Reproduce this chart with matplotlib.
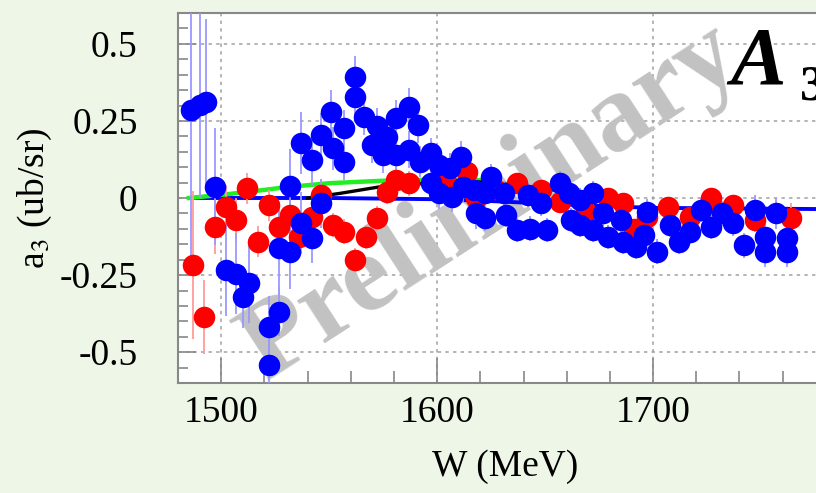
import numpy as np
import matplotlib
matplotlib.use("Agg")
import matplotlib.pyplot as plt
from matplotlib.ticker import MultipleLocator, FixedLocator, FixedFormatter

plt.rcParams.update({
    "font.family": ["Liberation Serif", "DejaVu Serif"],
    "mathtext.fontset": "stix",
})

# ---- data ----
blue_w = [1486, 1490, 1493, 1497, 1502, 1507, 1510, 1513, 1522, 1522,
          1527, 1527, 1532, 1532, 1537, 1537, 1542, 1542, 1546, 1546,
          1551, 1552, 1557, 1557, 1562, 1562, 1566, 1570, 1572, 1575,
          1577, 1581, 1581, 1587, 1587, 1591, 1592, 1597, 1597, 1601,
          1601, 1606, 1607, 1611, 1612, 1617, 1618, 1622, 1622, 1625,
          1631, 1632, 1637, 1642, 1643, 1648, 1651, 1657, 1661, 1662,
          1666, 1666, 1672, 1672, 1677, 1679, 1685, 1686, 1692, 1696,
          1697, 1702, 1708, 1712, 1717, 1722, 1727, 1732, 1737, 1742,
          1747, 1752, 1752, 1757, 1762, 1762]
blue_a = [0.285, 0.30, 0.31, 0.037, -0.234, -0.245, -0.32, -0.277, -0.418, -0.542,
          -0.369, -0.163, -0.174, 0.039, -0.082, 0.178, -0.131, 0.123, -0.017, 0.205,
          0.28, 0.161, 0.226, 0.118, 0.394, 0.329, 0.264, 0.172, 0.232, 0.14,
          0.199, 0.259, 0.14, 0.296, 0.156, 0.237, 0.118, 0.145, 0.048, 0.107,
          0.015, 0.096, 0.004, 0.134, 0.037, 0.026, -0.05, 0.015, -0.066, 0.069,
          0.015, -0.055, -0.104, 0.01, -0.099, -0.017, -0.104, 0.048, 0.015, -0.071,
          -0.006, -0.088, 0.015, -0.104, -0.05, -0.126, -0.071, -0.142, -0.158, -0.12,
          -0.044, -0.174, -0.088, -0.142, -0.109, -0.039, -0.093, -0.05, -0.082, -0.153,
          -0.039, -0.126, -0.174, -0.05, -0.131, -0.174]
blue_err = [0.5, 0.3, 0.27, 0.19, 0.15, 0.13, 0.1, 0.13, 0.1, 0.1,
            0.08, 0.15, 0.12, 0.12, 0.1, 0.1, 0.08, 0.08, 0.08, 0.07,
            0.07, 0.07, 0.06, 0.06, 0.065, 0.06, 0.06, 0.06, 0.06, 0.06,
            0.06, 0.06, 0.06, 0.06, 0.06, 0.06, 0.05, 0.05, 0.05, 0.05,
            0.05, 0.05, 0.05, 0.05, 0.05, 0.05, 0.05, 0.04, 0.04, 0.04,
            0.04, 0.04, 0.04, 0.04, 0.04, 0.04, 0.04, 0.04, 0.04, 0.04,
            0.04, 0.04, 0.04, 0.04, 0.04, 0.04, 0.04, 0.04, 0.04, 0.04,
            0.04, 0.04, 0.04, 0.04, 0.04, 0.04, 0.04, 0.04, 0.04, 0.04,
            0.05, 0.05, 0.05, 0.05, 0.05, 0.05]

red_w = [1487, 1492, 1497, 1502, 1507, 1512, 1517, 1522, 1527, 1532,
         1536, 1542, 1546, 1552, 1557, 1562, 1567, 1572, 1577, 1581,
         1587, 1604, 1614, 1618, 1627, 1637, 1648, 1657, 1669, 1679,
         1686, 1691, 1697, 1707, 1717, 1727, 1737, 1747, 1764]
red_a = [-0.218, -0.385, -0.093, -0.028, -0.071, 0.031, -0.142, -0.023, -0.093, -0.055,
         -0.126, -0.061, 0.01, -0.088, -0.109, -0.201, -0.126, -0.066, 0.021, 0.058,
         0.048, 0.053, 0.085, 0.0, 0.03, 0.048, 0.026, -0.012, -0.044, 0.0,
         -0.017, -0.1, -0.06, -0.028, -0.06, -0.001, -0.023, -0.07, -0.066]
red_err = [0.24, 0.12, 0.09, 0.07, 0.07, 0.05, 0.05, 0.05, 0.05, 0.05,
           0.05, 0.05, 0.05, 0.04, 0.04, 0.04, 0.04, 0.04, 0.04, 0.04,
           0.04, 0.04, 0.04, 0.03, 0.03, 0.03, 0.03, 0.03, 0.03, 0.03,
           0.03, 0.03, 0.03, 0.03, 0.03, 0.03, 0.03, 0.04, 0.05]

# model curves
blue_model_w = [1485, 1550, 1600, 1625, 1650, 1675, 1700, 1800]
blue_model_a = [0.0, 0.0, -0.004, -0.01, -0.018, -0.026, -0.032, -0.037]
green_model_w = [1485, 1500, 1515, 1530, 1550, 1575, 1600, 1620]
green_model_a = [0.0, 0.01, 0.022, 0.035, 0.048, 0.056, 0.06, 0.058]
black_model_w = [1540, 1555, 1575, 1600, 1620, 1640, 1655]
black_model_a = [0.0, 0.015, 0.038, 0.05, 0.052, 0.04, 0.025]

y_ticks = [-0.5, -0.25, 0, 0.25, 0.5]
y_ticklabels = ["-0.5", "-0.25", "0", "0.25", "0.5"]
x_ticks = [1500, 1600, 1700]

# ---- figure ----
W_PX, H_PX = 816, 493
fig = plt.figure(figsize=(W_PX / 100, H_PX / 100), dpi=100)
fig.patch.set_facecolor("#eef6e7")

ax_l, ax_t, ax_b, ax_r = 178, 13, 383, 869   # pixel frame (right side cropped off)
ax = fig.add_axes([ax_l / W_PX, 1 - ax_b / H_PX, (ax_r - ax_l) / W_PX, (ax_b - ax_t) / H_PX])
ax.set_facecolor("white")
ax.set_xlim(1480, 1800)
ax.set_ylim(-0.6, 0.6)

ax.grid(True, which="major", color="#a0a0a0", linestyle=(0, (2.2, 2.8)), linewidth=1.1)
ax.set_axisbelow(True)

# watermark, under the data
ax.text(505 / W_PX, 1 - 225 / H_PX, "Preliminary", transform=fig.transFigure,
        fontsize=80, fontweight="bold", color="#c2c2c2", rotation=33,
        rotation_mode="anchor", ha="center", va="baseline", zorder=1, clip_on=False)

ax.plot(blue_model_w, blue_model_a, color="#0000ff", lw=2.8, zorder=2, solid_capstyle="butt")
ax.plot(green_model_w, green_model_a, color="#22ee22", lw=3.2, zorder=2)
ax.plot(black_model_w, black_model_a, color="black", lw=2.4, zorder=2)

ax.errorbar(red_w, red_a, yerr=red_err, fmt="none", ecolor="#ff9a9a", elinewidth=1.3, zorder=3)
ax.errorbar(blue_w, blue_a, yerr=blue_err, fmt="none", ecolor="#9a9aff", elinewidth=1.3, zorder=3)
ax.plot(red_w, red_a, "o", color="#ff0000", ms=15.5, mew=0, zorder=4)
ax.plot(blue_w, blue_a, "o", color="#0000ff", ms=15.5, mew=0, zorder=5)

ax.xaxis.set_major_locator(FixedLocator(x_ticks))
ax.xaxis.set_minor_locator(MultipleLocator(20))
ax.yaxis.set_major_locator(FixedLocator(y_ticks))
ax.yaxis.set_major_formatter(FixedFormatter(y_ticklabels))
ax.yaxis.set_minor_locator(MultipleLocator(0.05))
ax.tick_params(axis="x", which="major", direction="in", length=18, width=1.2,
               color="#888888", labelsize=27, pad=9)
ax.tick_params(axis="x", which="minor", direction="in", length=8.5, width=1.2, color="#888888")
ax.tick_params(axis="y", which="major", direction="in", length=13, width=1.2,
               color="#888888", labelsize=27, pad=29)
ax.tick_params(axis="y", which="minor", direction="in", length=7, width=1.2, color="#888888")
for s in ax.spines.values():
    s.set_color("#888888")
    s.set_linewidth(1.5)
ax.spines["right"].set_visible(False)

# axis titles
fig.text(505 / W_PX, 1 - 467 / H_PX, "W (MeV)", fontsize=27, ha="center", va="center")
fig.text(35 / W_PX, 1 - 198 / H_PX, r"a$_3$ (ub/sr)", fontsize=27, rotation=90,
         ha="center", va="center")

# panel label
fig.text(730 / W_PX, 1 - 83 / H_PX, "A", fontsize=60, fontweight="bold", fontstyle="italic",
         ha="left", va="baseline")
fig.text(800 / W_PX, 1 - 100 / H_PX, "3", fontsize=37, fontweight="bold",
         ha="left", va="baseline")

fig.savefig("out.png", dpi=100, facecolor=fig.get_facecolor())
